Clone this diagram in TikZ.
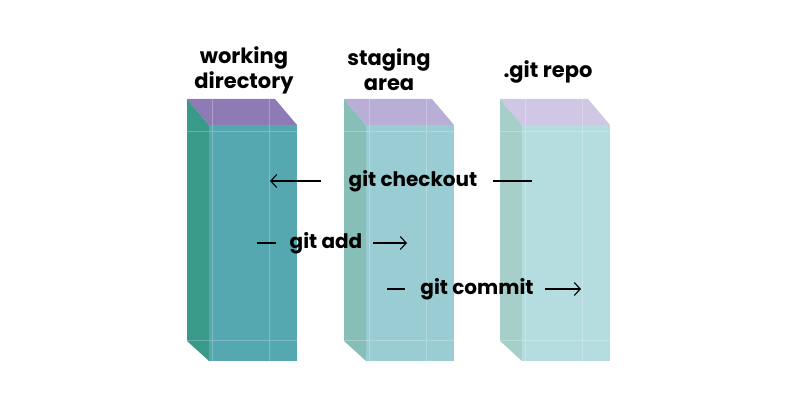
\documentclass[tikz,border=0pt]{standalone}
\usepackage{fontspec}
\setmainfont{Poppins}
\usetikzlibrary{arrows.meta,calc}

\definecolor{wdfront}{HTML}{55A8B0}
\definecolor{wdside}{HTML}{3A9A8A}
\definecolor{wdtop}{HTML}{8E7BB5}
\definecolor{safront}{HTML}{9ACCD3}
\definecolor{saside}{HTML}{87BFB8}
\definecolor{satop}{HTML}{B8AED6}
\definecolor{gtfront}{HTML}{B5DCDF}
\definecolor{gtside}{HTML}{A5CFC8}
\definecolor{gttop}{HTML}{CFC7E4}

% one translucent box: #1 left x, #2 front, #3 side, #4 top
\newcommand{\gitbox}[4]{
  \fill[#3] (#1,99) -- (#1+22,125) -- (#1+22,361) -- (#1,341) -- cycle;
  \fill[#2] (#1+22,125) rectangle (#1+110,361);
  \fill[#4] (#1,99) -- (#1+88,99) -- (#1+110,125) -- (#1+22,125) -- cycle;
  \draw[white,opacity=.25,line width=1pt] (#1+25,99) -- (#1+25,361)
    (#1+82,99) -- (#1+82,361) (#1,132) -- (#1+110,132) (#1,341) -- (#1+110,341);
}

\begin{document}
\begin{tikzpicture}[x=1pt,y=-1pt,
  label text/.style={font=\bfseries\fontsize{21}{25}\selectfont,align=center,text=black},
  cmd text/.style={font=\bfseries\fontsize{20}{24}\selectfont,text=black},
  flow/.style={-{Straight Barb[length=6pt,width=13pt]},line width=1.1pt},
  stub/.style={line width=1.1pt}]
\useasboundingbox (0,0) rectangle (800,411);

\gitbox{187}{wdfront}{wdside}{wdtop}
\gitbox{344}{safront}{saside}{satop}
\gitbox{500}{gtfront}{gtside}{gttop}

\node[label text](wd) at (244,70) {working\\directory};
\node[label text](sa) at (389,70) {staging\\area};
\node[label text](gr) at (548,72) {.git repo};

\node[cmd text](checkout) at (413,181) {git checkout};
\node[cmd text](add) at (326,243) {git add};
\node[cmd text](commit) at (477,289) {git commit};

\coordinate (co1) at (493,181);
\coordinate (co2) at (532,181);
\coordinate (co3) at (321,181);
\coordinate (co4) at (270,181);
\coordinate (ad1) at (257,243);
\coordinate (ad2) at (276,243);
\coordinate (ad3) at (373,243);
\coordinate (ad4) at (407,243);
\coordinate (cm1) at (387,289);
\coordinate (cm2) at (405,289);
\coordinate (cm3) at (545,289);
\coordinate (cm4) at (581,289);

\draw[stub] (co1) -- (co2);
\draw[flow] (co3) -- (co4);
\draw[stub] (ad1) -- (ad2);
\draw[flow] (ad3) -- (ad4);
\draw[stub] (cm1) -- (cm2);
\draw[flow] (cm3) -- (cm4);
\end{tikzpicture}
\end{document}
